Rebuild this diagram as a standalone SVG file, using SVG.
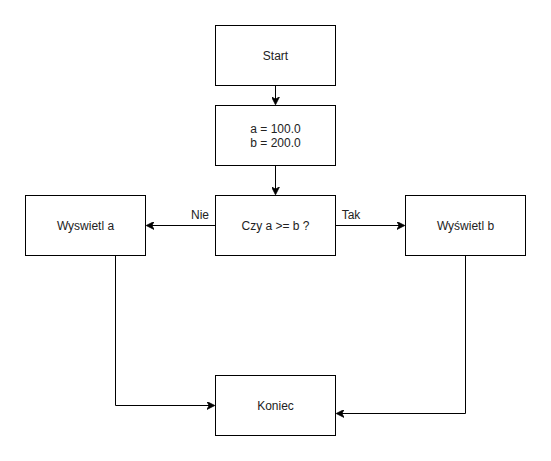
<svg xmlns="http://www.w3.org/2000/svg" width="551" height="461" viewBox="0 0 551 461">
<style>
.box{fill:#fff;stroke:#000;stroke-width:1}
.t{font-family:"Liberation Sans",Arial,sans-serif;font-size:12px;fill:#222;text-anchor:middle}
.e{fill:none;stroke:#000;stroke-width:1}
</style>
<defs>
<marker id="a" viewBox="0 0 10 10" refX="9" refY="5" markerWidth="8" markerHeight="8" markerUnits="userSpaceOnUse" orient="auto">
<path d="M0,0 L10,5 L0,10 L3,5 Z" fill="#000" stroke="#000"/>
</marker>
</defs>
<rect width="551" height="461" fill="#fff"/>
<g id="connectors">
<path class="e" d="M275.5,85.5 V104" marker-end="url(#a)"/>
<path class="e" d="M275.5,165.5 V194" marker-end="url(#a)"/>
<path class="e" d="M215.5,225.5 H147" marker-end="url(#a)"/>
<path class="e" d="M335.5,225.5 H404" marker-end="url(#a)"/>
<path class="e" d="M115.5,255.5 V405.5 H214" marker-end="url(#a)"/>
<path class="e" d="M465.5,255.5 V413.5 H337" marker-end="url(#a)"/>
<text class="t" x="200" y="219">Nie</text>
<text class="t" x="351" y="219">Tak</text>
</g>
<g id="start"><rect class="box" x="215.5" y="25.5" width="120" height="60"/><text class="t" x="275.5" y="59.5">Start</text></g>
<g id="init"><rect class="box" x="215.5" y="105.5" width="120" height="60"/><text class="t" x="275.5" y="132.5">a = 100.0</text><text class="t" x="275.5" y="146.5">b = 200.0</text></g>
<g id="decision"><rect class="box" x="215.5" y="195.5" width="120" height="60"/><text class="t" x="275.5" y="229.5">Czy a &gt;= b ?</text></g>
<g id="showA"><rect class="box" x="25.5" y="195.5" width="120" height="60"/><text class="t" x="85.5" y="229.5">Wyswietl a</text></g>
<g id="showB"><rect class="box" x="405.5" y="195.5" width="120" height="60"/><text class="t" x="465.5" y="229.5">Wyświetl b</text></g>
<g id="end"><rect class="box" x="215.5" y="375.5" width="120" height="60"/><text class="t" x="275.5" y="409.5">Koniec</text></g>
</svg>
